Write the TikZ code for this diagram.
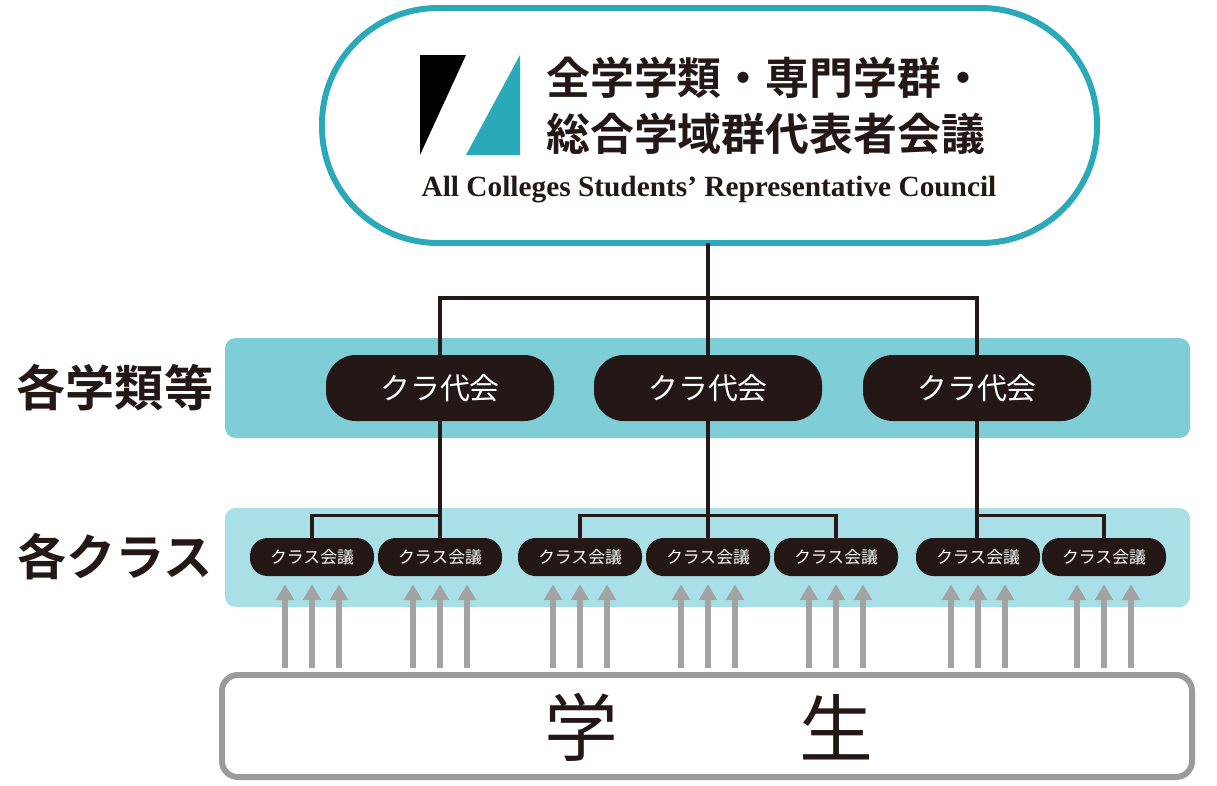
\documentclass[tikz,border=0pt]{standalone}
\usepackage{fontspec}
\setmainfont{Liberation Serif}
\newfontfamily\jpfont{Noto Sans CJK JP}[BoldFont={* Bold}]
\usetikzlibrary{positioning,arrows.meta,calc}
\definecolor{teal1}{HTML}{2AA9B9}
\definecolor{band1}{HTML}{7FCDD7}
\definecolor{band2}{HTML}{A9DFE6}
\definecolor{ink}{HTML}{231815}
\definecolor{arrowgray}{HTML}{A3A3A3}

\begin{document}
\begin{tikzpicture}[x=0.02cm,y=-0.02cm,
			band/.style={fill=#1,rounded corners=6pt,draw=none},
			rep/.style={fill=ink,text=white,rounded corners=17pt,minimum width=228*0.02cm,
					minimum height=66*0.02cm,font=\jpfont\fontsize{17}{17}\selectfont},
			cls/.style={fill=ink,text=white,rounded corners=10pt,minimum width=124*0.02cm,
					minimum height=38*0.02cm,inner sep=0pt,font=\jpfont\fontsize{9.6}{10}\selectfont},
			link/.style={line width=1.8pt,draw=ink},
			up/.style={line width=3pt,draw=arrowgray,-{Triangle[length=9pt,width=10pt]}},
			side/.style={font=\jpfont\bfseries\fontsize{28}{28}\selectfont,text=ink}
		]
		\useasboundingbox (0,0) rectangle (1217,785);

		% council
		\draw[teal1,line width=3.4pt,rounded corners=66pt] (322,8) rectangle (1097,243);
		\coordinate (council) at (708,243);
		\fill[black] (420,55) -- (466,55) -- (420,155) -- cycle;
		\fill[teal1] (520,55) -- (520,155) -- (466,155) -- cycle;
		\node[anchor=west,font=\jpfont\bfseries\fontsize{25}{25}\selectfont,text=ink] (t1) at (540,78) {全学学類・専門学群・};
		\node[anchor=west,font=\jpfont\bfseries\fontsize{25}{25}\selectfont,text=ink] (t2) at (540,134) {総合学域群代表者会議};
		\node[font=\bfseries\fontsize{16.7}{17}\selectfont,text=ink] (en) at (709,190) {All Colleges Students’ Representative Council};

		% bands
		\fill[band1,rounded corners=6pt] (225,338) rectangle (1190,438);
		\fill[band2,rounded corners=6pt] (225,508) rectangle (1190,607);
		\node[side] (l1) at (115,388) {各学類等};
		\node[side] (l2) at (115,557) {各クラス};

		% class representative meetings
		\foreach \x/\n in {440/ra,708/rb,977/rc}
		\node[rep] (\n) at (\x,388) {クラ代会};

		% class meetings
		\foreach \x/\n in {312/ca,440/cb,580/cc,708/cd,836/ce,978/cf,1104/cg}
		\node[cls] (\n) at (\x,557) {クラス会議};

		% tree
		\coordinate (top) at (708,298);
		\draw[link] (council) -- (top);
		\draw[link] (ra.north) |- (top) -| (rc.north);
		\draw[link] (top) -- (rb.north);
		\draw[link] (ra.south) -- (cb.north);
		\draw[link] (ra.south) ++(0,94) -| (ca.north);
		\draw[link] (rb.south) -- (cd.north);
		\draw[link] (cc.north) |- ($(rb.south)+(0,94)$) -| (ce.north);
		\draw[link] (rc.south) -- ($(cf.north)+(-1,0)$);
		\draw[link] (rc.south) ++(0,94) -| (cg.north);

		% students
		\draw[arrowgray!95!black,line width=3.4pt,rounded corners=9pt] (222,675) rectangle (1192,777);
		\node[font=\jpfont\fontsize{42}{42}\selectfont,text=ink] (s1) at (581,727) {学};
		\node[font=\jpfont\fontsize{42}{42}\selectfont,text=ink] (s2) at (836,727) {生};

		\foreach \n in {ca,cb,cc,cd,ce,cf,cg}
		\foreach \d in {-27,0,27}
		\draw[up] ($(\n.south)+(\d,92)$) -- ($(\n.south)+(\d,8)$);
	\end{tikzpicture}
\end{document}
